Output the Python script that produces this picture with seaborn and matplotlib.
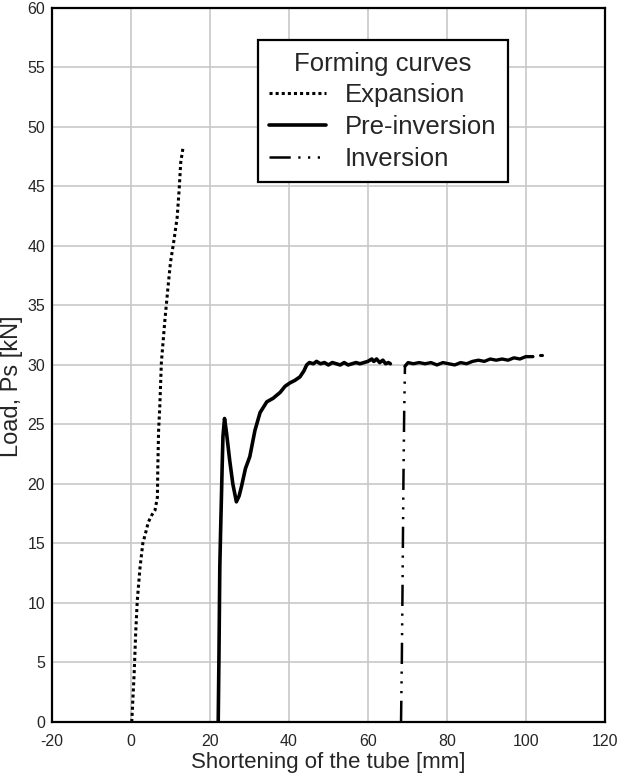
import pandas as pd
import matplotlib
matplotlib.use("Agg")
import matplotlib.pyplot as plt
import seaborn as sns

sns.set_style("whitegrid")
plt.rcParams['font.family'] = ['Liberation Sans', 'DejaVu Sans']
plt.rcParams['axes.unicode_minus'] = False

# Expansion curve
exp_x = [0.2, 0.8, 1.2, 1.6, 2.3, 3.0, 3.8, 4.4, 5.3, 6.1, 6.7, 6.8, 7.0, 7.3,
         7.7, 8.6, 9.4, 10.0, 10.9, 11.7, 12.2, 12.6, 13.2]
exp_y = [0.0, 4.0, 7.5, 10.2, 13.0, 15.0, 16.0, 16.8, 17.4, 17.8, 18.9, 21.4, 24.5, 26.5,
         30.2, 33.8, 36.6, 38.6, 40.5, 42.4, 44.7, 47.0, 48.3]

# Pre-inversion curve
pre_x = [22.1, 22.3, 22.5, 22.7, 22.9, 23.1, 23.3, 23.7, 24.2, 25.0, 25.8, 26.7, 27.4,
         28.0, 29.0, 30.1, 31.4, 32.7, 34.4, 36.0, 37.8, 39.0, 40.3, 41.5, 42.8, 43.8,
         44.5, 45.2, 46.2, 47.0, 48.0, 49.0, 50.0, 51.0, 52.0, 53.0, 54.0, 55.0, 56.0,
         57.0, 58.0, 59.0, 60.0, 61.0, 61.5, 62.2, 63.0, 63.8, 64.5, 65.2, 65.7]
pre_y = [0.0, 6.0, 13.0, 16.0, 18.7, 21.5, 24.0, 25.5, 24.3, 22.0, 20.0, 18.5, 19.0,
         19.8, 21.3, 22.3, 24.5, 26.0, 26.9, 27.2, 27.7, 28.2, 28.5, 28.7, 29.0, 29.5,
         30.0, 30.2, 30.1, 30.3, 30.1, 30.2, 30.0, 30.2, 30.1, 30.0, 30.2, 30.0, 30.1,
         30.2, 30.1, 30.2, 30.3, 30.5, 30.3, 30.5, 30.2, 30.4, 30.1, 30.2, 30.1]

# Inversion curve: steep rise, then the noisy plateau
inv_x = [68.4, 68.6, 68.8, 69.0, 69.2, 69.4]
inv_y = [0.0, 5.0, 12.0, 20.0, 26.0, 29.9]
plateau_x = [69.4, 70.2, 71.5, 73.0, 74.5, 76.0, 77.5, 79.0, 80.5, 82.0, 83.5, 85.0,
             86.5, 88.0, 89.5, 91.0, 92.5, 94.0, 95.5, 97.0, 98.5, 100.0, 101.8]
plateau_y = [29.9, 30.2, 30.1, 30.2, 30.1, 30.2, 30.0, 30.2, 30.1, 30.0, 30.2, 30.1,
             30.3, 30.4, 30.3, 30.5, 30.4, 30.5, 30.4, 30.6, 30.5, 30.7, 30.7]
tail_x = [103.6, 104.0]
tail_y = [30.8, 30.8]

dashdots = (0, (8.5, 3.0, 0.9, 3.0, 0.9, 3.0, 0.9, 3.0))
curves = [
    ("Expansion", exp_x, exp_y, dict(linestyle=(0, (1.0, 1.0)), linewidth=2.2)),
    ("Pre-inversion", pre_x, pre_y, dict(linestyle="-", linewidth=2.6)),
    ("Inversion", inv_x, inv_y, dict(linestyle=dashdots, linewidth=1.8)),
    (None, plateau_x, plateau_y, dict(linestyle="-", linewidth=2.4)),
    (None, tail_x, tail_y, dict(linestyle="-", linewidth=2.2)),
]

fig = plt.figure(figsize=(6.19, 7.77), dpi=100)
ax = fig.add_axes([0.084, 0.0708, 0.893, 0.919])

for name, xs, ys, style in curves:
    df = pd.DataFrame({"x": xs, "y": ys})
    sns.lineplot(data=df, x="x", y="y", sort=False, estimator=None, ax=ax,
                 color="black", label=name, legend=name is not None, **style)

ax.set_xlim(-20, 120)
ax.set_ylim(0, 60)
ax.set_xticks(range(-20, 121, 20))
ax.set_yticks(range(0, 61, 5))
ax.tick_params(axis="both", length=0, labelsize=11.5)
ax.tick_params(axis="x", pad=9)
ax.tick_params(axis="y", pad=5)
ax.grid(True, color="#c8c8c8", linewidth=1.2)
for sp in ax.spines.values():
    sp.set_color("black")
    sp.set_linewidth(1.6)

ax.set_xlabel("Shortening of the tube [mm]", fontsize=16, labelpad=2)
ax.set_ylabel("Load, Ps [kN]", fontsize=17)
ax.yaxis.set_label_coords(-0.052, 0.47)

handles, labels = ax.get_legend_handles_labels()
keep = [(h, l) for h, l in zip(handles, labels) if l in ("Expansion", "Pre-inversion", "Inversion")]
leg = ax.legend([h for h, _ in keep], [l for _, l in keep],
                title="Forming curves", loc="upper left", bbox_to_anchor=(0.372, 0.955),
                fontsize=18.5, title_fontsize=18.5, frameon=True, fancybox=False,
                handlelength=2.2, borderpad=0.45, labelspacing=0.3, handletextpad=0.75,
                borderaxespad=0)
leg.get_frame().set_edgecolor("black")
leg.get_frame().set_linewidth(1.6)
leg.get_frame().set_alpha(1)

fig.savefig("out.png", dpi=100)
